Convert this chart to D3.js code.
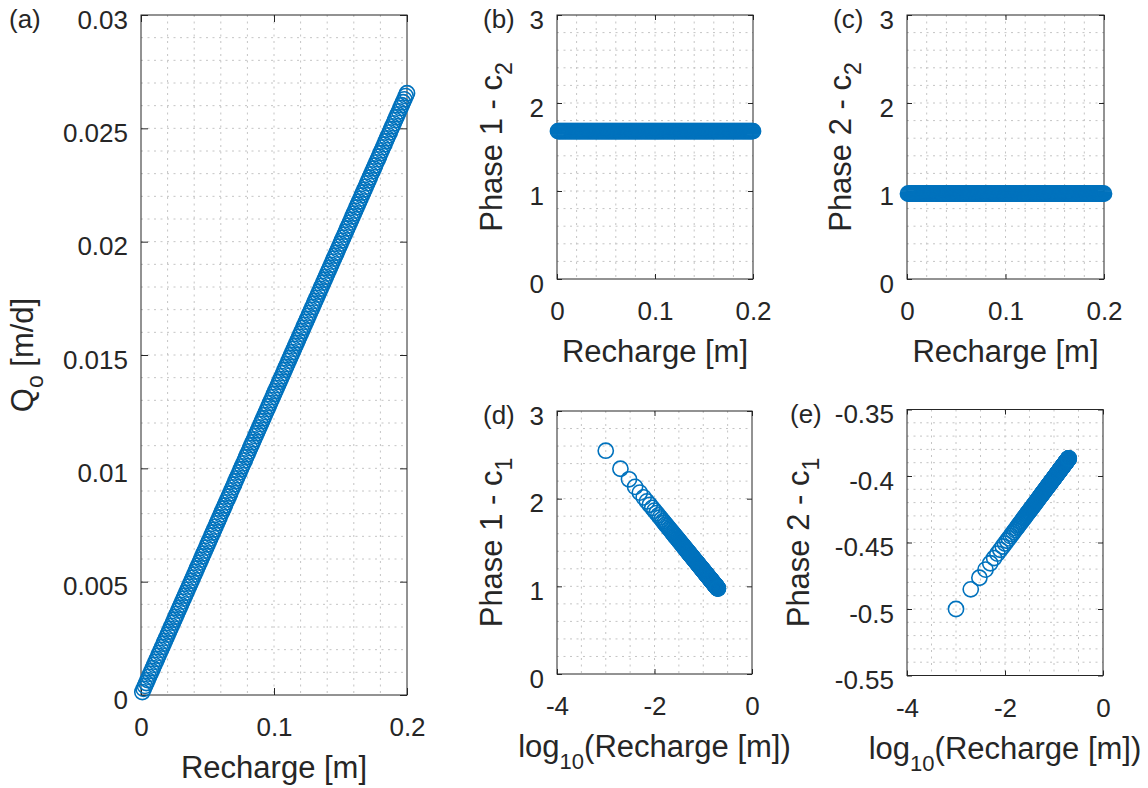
<!DOCTYPE html>
<html><head><meta charset="utf-8">
<script src="https://cdn.jsdelivr.net/npm/d3@7"></script>
<style>html,body{margin:0;padding:0;background:#fff;} svg{display:block;}</style>
</head><body>
<script>
// ---------------- DATA ----------------
const recharge = [
0.001,0.002,0.003,0.004,0.005,0.006,0.007,0.008,0.009,0.010,
0.011,0.012,0.013,0.014,0.015,0.016,0.017,0.018,0.019,0.020,
0.021,0.022,0.023,0.024,0.025,0.026,0.027,0.028,0.029,0.030,
0.031,0.032,0.033,0.034,0.035,0.036,0.037,0.038,0.039,0.040,
0.041,0.042,0.043,0.044,0.045,0.046,0.047,0.048,0.049,0.050,
0.051,0.052,0.053,0.054,0.055,0.056,0.057,0.058,0.059,0.060,
0.061,0.062,0.063,0.064,0.065,0.066,0.067,0.068,0.069,0.070,
0.071,0.072,0.073,0.074,0.075,0.076,0.077,0.078,0.079,0.080,
0.081,0.082,0.083,0.084,0.085,0.086,0.087,0.088,0.089,0.090,
0.091,0.092,0.093,0.094,0.095,0.096,0.097,0.098,0.099,0.100,
0.101,0.102,0.103,0.104,0.105,0.106,0.107,0.108,0.109,0.110,
0.111,0.112,0.113,0.114,0.115,0.116,0.117,0.118,0.119,0.120,
0.121,0.122,0.123,0.124,0.125,0.126,0.127,0.128,0.129,0.130,
0.131,0.132,0.133,0.134,0.135,0.136,0.137,0.138,0.139,0.140,
0.141,0.142,0.143,0.144,0.145,0.146,0.147,0.148,0.149,0.150,
0.151,0.152,0.153,0.154,0.155,0.156,0.157,0.158,0.159,0.160,
0.161,0.162,0.163,0.164,0.165,0.166,0.167,0.168,0.169,0.170,
0.171,0.172,0.173,0.174,0.175,0.176,0.177,0.178,0.179,0.180,
0.181,0.182,0.183,0.184,0.185,0.186,0.187,0.188,0.189,0.190,
0.191,0.192,0.193,0.194,0.195,0.196,0.197,0.198,0.199,0.200];

const qo = [
0.00013,0.00027,0.00040,0.00053,0.00066,0.00080,0.00093,0.00106,0.00119,0.00133,
0.00146,0.00159,0.00173,0.00186,0.00199,0.00212,0.00226,0.00239,0.00252,0.00266,
0.00279,0.00292,0.00305,0.00319,0.00332,0.00345,0.00358,0.00372,0.00385,0.00398,
0.00412,0.00425,0.00438,0.00451,0.00465,0.00478,0.00491,0.00504,0.00518,0.00531,
0.00544,0.00558,0.00571,0.00584,0.00597,0.00611,0.00624,0.00637,0.00650,0.00664,
0.00677,0.00690,0.00704,0.00717,0.00730,0.00743,0.00757,0.00770,0.00783,0.00797,
0.00810,0.00823,0.00836,0.00850,0.00863,0.00876,0.00889,0.00903,0.00916,0.00929,
0.00943,0.00956,0.00969,0.00982,0.00996,0.01009,0.01022,0.01035,0.01049,0.01062,
0.01075,0.01089,0.01102,0.01115,0.01128,0.01142,0.01155,0.01168,0.01181,0.01195,
0.01208,0.01221,0.01235,0.01248,0.01261,0.01274,0.01288,0.01301,0.01314,0.01328,
0.01341,0.01354,0.01367,0.01381,0.01394,0.01407,0.01420,0.01434,0.01447,0.01460,
0.01474,0.01487,0.01500,0.01513,0.01527,0.01540,0.01553,0.01566,0.01580,0.01593,
0.01606,0.01620,0.01633,0.01646,0.01659,0.01673,0.01686,0.01699,0.01712,0.01726,
0.01739,0.01752,0.01766,0.01779,0.01792,0.01805,0.01819,0.01832,0.01845,0.01859,
0.01872,0.01885,0.01898,0.01912,0.01925,0.01938,0.01951,0.01965,0.01978,0.01991,
0.02005,0.02018,0.02031,0.02044,0.02058,0.02071,0.02084,0.02097,0.02111,0.02124,
0.02137,0.02151,0.02164,0.02177,0.02190,0.02204,0.02217,0.02230,0.02243,0.02257,
0.02270,0.02283,0.02297,0.02310,0.02323,0.02336,0.02350,0.02363,0.02376,0.02390,
0.02403,0.02416,0.02429,0.02443,0.02456,0.02469,0.02482,0.02496,0.02509,0.02522,
0.02536,0.02549,0.02562,0.02575,0.02589,0.02602,0.02615,0.02628,0.02642,0.02655];

const phase1C2 = [
1.68,1.68,1.68,1.68,1.68,1.68,1.68,1.68,1.68,1.68,1.68,1.68,1.68,1.68,1.68,1.68,1.68,1.68,1.68,1.68,
1.68,1.68,1.68,1.68,1.68,1.68,1.68,1.68,1.68,1.68,1.68,1.68,1.68,1.68,1.68,1.68,1.68,1.68,1.68,1.68,
1.68,1.68,1.68,1.68,1.68,1.68,1.68,1.68,1.68,1.68,1.68,1.68,1.68,1.68,1.68,1.68,1.68,1.68,1.68,1.68,
1.68,1.68,1.68,1.68,1.68,1.68,1.68,1.68,1.68,1.68,1.68,1.68,1.68,1.68,1.68,1.68,1.68,1.68,1.68,1.68,
1.68,1.68,1.68,1.68,1.68,1.68,1.68,1.68,1.68,1.68,1.68,1.68,1.68,1.68,1.68,1.68,1.68,1.68,1.68,1.68,
1.68,1.68,1.68,1.68,1.68,1.68,1.68,1.68,1.68,1.68,1.68,1.68,1.68,1.68,1.68,1.68,1.68,1.68,1.68,1.68,
1.68,1.68,1.68,1.68,1.68,1.68,1.68,1.68,1.68,1.68,1.68,1.68,1.68,1.68,1.68,1.68,1.68,1.68,1.68,1.68,
1.68,1.68,1.68,1.68,1.68,1.68,1.68,1.68,1.68,1.68,1.68,1.68,1.68,1.68,1.68,1.68,1.68,1.68,1.68,1.68,
1.68,1.68,1.68,1.68,1.68,1.68,1.68,1.68,1.68,1.68,1.68,1.68,1.68,1.68,1.68,1.68,1.68,1.68,1.68,1.68,
1.68,1.68,1.68,1.68,1.68,1.68,1.68,1.68,1.68,1.68,1.68,1.68,1.68,1.68,1.68,1.68,1.68,1.68,1.68,1.68];

const phase2C2 = [
0.97,0.97,0.97,0.97,0.97,0.97,0.97,0.97,0.97,0.97,0.97,0.97,0.97,0.97,0.97,0.97,0.97,0.97,0.97,0.97,
0.97,0.97,0.97,0.97,0.97,0.97,0.97,0.97,0.97,0.97,0.97,0.97,0.97,0.97,0.97,0.97,0.97,0.97,0.97,0.97,
0.97,0.97,0.97,0.97,0.97,0.97,0.97,0.97,0.97,0.97,0.97,0.97,0.97,0.97,0.97,0.97,0.97,0.97,0.97,0.97,
0.97,0.97,0.97,0.97,0.97,0.97,0.97,0.97,0.97,0.97,0.97,0.97,0.97,0.97,0.97,0.97,0.97,0.97,0.97,0.97,
0.97,0.97,0.97,0.97,0.97,0.97,0.97,0.97,0.97,0.97,0.97,0.97,0.97,0.97,0.97,0.97,0.97,0.97,0.97,0.97,
0.97,0.97,0.97,0.97,0.97,0.97,0.97,0.97,0.97,0.97,0.97,0.97,0.97,0.97,0.97,0.97,0.97,0.97,0.97,0.97,
0.97,0.97,0.97,0.97,0.97,0.97,0.97,0.97,0.97,0.97,0.97,0.97,0.97,0.97,0.97,0.97,0.97,0.97,0.97,0.97,
0.97,0.97,0.97,0.97,0.97,0.97,0.97,0.97,0.97,0.97,0.97,0.97,0.97,0.97,0.97,0.97,0.97,0.97,0.97,0.97,
0.97,0.97,0.97,0.97,0.97,0.97,0.97,0.97,0.97,0.97,0.97,0.97,0.97,0.97,0.97,0.97,0.97,0.97,0.97,0.97,
0.97,0.97,0.97,0.97,0.97,0.97,0.97,0.97,0.97,0.97,0.97,0.97,0.97,0.97,0.97,0.97,0.97,0.97,0.97,0.97];

const phase1C1 = [
2.547,2.341,2.221,2.135,2.069,2.015,1.969,1.930,1.895,1.864,
1.835,1.810,1.786,1.764,1.743,1.724,1.706,1.689,1.673,1.658,
1.644,1.630,1.617,1.604,1.592,1.580,1.569,1.558,1.548,1.538,
1.528,1.519,1.510,1.501,1.492,1.484,1.476,1.468,1.460,1.452,
1.445,1.438,1.431,1.424,1.418,1.411,1.405,1.398,1.392,1.386,
1.380,1.375,1.369,1.363,1.358,1.353,1.347,1.342,1.337,1.332,
1.327,1.322,1.318,1.313,1.308,1.304,1.299,1.295,1.291,1.286,
1.282,1.278,1.274,1.270,1.266,1.262,1.258,1.254,1.251,1.247,
1.243,1.240,1.236,1.232,1.229,1.225,1.222,1.219,1.215,1.212,
1.209,1.205,1.202,1.199,1.196,1.193,1.190,1.187,1.184,1.181,
1.178,1.175,1.172,1.169,1.166,1.163,1.161,1.158,1.155,1.152,
1.150,1.147,1.144,1.142,1.139,1.137,1.134,1.132,1.129,1.127,
1.124,1.122,1.119,1.117,1.114,1.112,1.110,1.107,1.105,1.103,
1.101,1.098,1.096,1.094,1.092,1.089,1.087,1.085,1.083,1.081,
1.079,1.077,1.075,1.072,1.070,1.068,1.066,1.064,1.062,1.060,
1.058,1.056,1.054,1.053,1.051,1.049,1.047,1.045,1.043,1.041,
1.039,1.038,1.036,1.034,1.032,1.030,1.029,1.027,1.025,1.023,
1.021,1.020,1.018,1.016,1.015,1.013,1.011,1.010,1.008,1.006,
1.005,1.003,1.001,1.000,0.998,0.997,0.995,0.993,0.992,0.990,
0.989,0.987,0.986,0.984,0.983,0.981,0.980,0.978,0.977,0.975];

const phase2C1 = [
-0.5000,-0.4852,-0.4765,-0.4704,-0.4656,-0.4617,-0.4584,-0.4555,-0.4530,-0.4508,
-0.4487,-0.4469,-0.4452,-0.4436,-0.4421,-0.4407,-0.4394,-0.4382,-0.4370,-0.4359,
-0.4349,-0.4339,-0.4329,-0.4320,-0.4312,-0.4303,-0.4295,-0.4287,-0.4280,-0.4273,
-0.4266,-0.4259,-0.4252,-0.4246,-0.4240,-0.4234,-0.4228,-0.4222,-0.4217,-0.4211,
-0.4206,-0.4201,-0.4196,-0.4191,-0.4186,-0.4181,-0.4177,-0.4172,-0.4168,-0.4163,
-0.4159,-0.4155,-0.4151,-0.4147,-0.4143,-0.4139,-0.4135,-0.4132,-0.4128,-0.4124,
-0.4121,-0.4117,-0.4114,-0.4111,-0.4107,-0.4104,-0.4101,-0.4098,-0.4095,-0.4092,
-0.4088,-0.4085,-0.4082,-0.4080,-0.4077,-0.4074,-0.4071,-0.4068,-0.4066,-0.4063,
-0.4060,-0.4058,-0.4055,-0.4052,-0.4050,-0.4047,-0.4045,-0.4043,-0.4040,-0.4038,
-0.4035,-0.4033,-0.4031,-0.4029,-0.4026,-0.4024,-0.4022,-0.4020,-0.4018,-0.4015,
-0.4013,-0.4011,-0.4009,-0.4007,-0.4005,-0.4003,-0.4001,-0.3999,-0.3997,-0.3995,
-0.3993,-0.3991,-0.3989,-0.3987,-0.3985,-0.3983,-0.3982,-0.3980,-0.3978,-0.3976,
-0.3974,-0.3973,-0.3971,-0.3969,-0.3968,-0.3966,-0.3964,-0.3962,-0.3961,-0.3959,
-0.3957,-0.3956,-0.3954,-0.3953,-0.3951,-0.3949,-0.3948,-0.3946,-0.3945,-0.3943,
-0.3942,-0.3940,-0.3939,-0.3937,-0.3936,-0.3934,-0.3933,-0.3931,-0.3930,-0.3929,
-0.3927,-0.3926,-0.3924,-0.3923,-0.3922,-0.3920,-0.3919,-0.3917,-0.3916,-0.3915,
-0.3913,-0.3912,-0.3911,-0.3909,-0.3908,-0.3907,-0.3906,-0.3904,-0.3903,-0.3902,
-0.3901,-0.3899,-0.3898,-0.3897,-0.3896,-0.3894,-0.3893,-0.3892,-0.3891,-0.3889,
-0.3888,-0.3887,-0.3886,-0.3885,-0.3884,-0.3882,-0.3881,-0.3880,-0.3879,-0.3878,
-0.3877,-0.3876,-0.3875,-0.3873,-0.3872,-0.3871,-0.3870,-0.3869,-0.3868,-0.3867];

const xTicksLin = [0, 0.1, 0.2];
const xTickLabelsLin = ["0", "0.1", "0.2"];
const xTicksLog = [-4, -2, 0];
const xTickLabelsLog = ["-4", "-2", "0"];
const yTicksA = [0, 0.005, 0.01, 0.015, 0.02, 0.025, 0.03];
const yTickLabelsA = ["0", "0.005", "0.01", "0.015", "0.02", "0.025", "0.03"];
const yTicksBCD = [0, 1, 2, 3];
const yTickLabelsBCD = ["0", "1", "2", "3"];
const yTicksE = [-0.55, -0.5, -0.45, -0.4, -0.35];
const yTickLabelsE = ["-0.55", "-0.5", "-0.45", "-0.4", "-0.35"];

const logRecharge = recharge.map(r => Math.log10(r));

// ---------------- DRAWING ----------------
const FONT = "'Liberation Sans', Arial, Helvetica, sans-serif";
const TXT = "#262626";
const BLUE = "#0072BD";
const TICKFS = 26, LABFS = 31;

const svg = d3.select("body").append("svg")
  .attr("width", 1148).attr("height", 788)
  .style("font-family", FONT);

function addParts(textSel, parts, subSize, subDy) {
  let prevSub = false;
  parts.forEach(p => {
    const ts = textSel.append("tspan").text(p.t);
    if (p.sub) { ts.attr("font-size", subSize).attr("dy", subDy); prevSub = true; }
    else if (prevSub) { ts.attr("dy", -subDy); prevSub = false; }
  });
}

function panel(o) {
  const x = d3.scaleLinear().domain(o.xDomain).range([o.left, o.right]);
  const y = d3.scaleLinear().domain(o.yDomain).range([o.bottom, o.top]);
  const g = svg.append("g");

  // minor grid (dotted)
  const xs = d3.range(Math.round((o.xDomain[1] - o.xDomain[0]) / o.xMinor) + 1)
    .map(i => o.xDomain[0] + i * o.xMinor).filter((v, i, a) => i > 0 && i < a.length - 1);
  const ys = d3.range(Math.round((o.yDomain[1] - o.yDomain[0]) / o.yMinor) + 1)
    .map(i => o.yDomain[0] + i * o.yMinor).filter((v, i, a) => i > 0 && i < a.length - 1);
  const grid = g.append("g").attr("stroke", "#c4c4c4").attr("stroke-width", 1)
    .attr("stroke-dasharray", "2,4.5").attr("fill", "none");
  grid.selectAll(".gx").data(xs).join("line")
    .attr("x1", d => x(d)).attr("x2", d => x(d)).attr("y1", o.top).attr("y2", o.bottom);
  grid.selectAll(".gy").data(ys).join("line")
    .attr("y1", d => y(d)).attr("y2", d => y(d)).attr("x1", o.left).attr("x2", o.right);

  // axes
  const tl = o.tl;
  const styleAxis = sel => {
    sel.select(".domain").remove();
    sel.attr("font-family", FONT).attr("font-size", TICKFS).attr("color", TXT);
    sel.selectAll(".tick line").attr("stroke-width", 1);
  };
  g.append("g").attr("transform", `translate(0,${o.bottom})`)
    .call(d3.axisBottom(x).tickValues(o.xTicks).tickFormat((d, i) => o.xTickLabels[i])
      .tickSizeInner(-tl).tickSizeOuter(0).tickPadding(23))
    .call(styleAxis);
  g.append("g").attr("transform", `translate(0,${o.top})`)
    .call(d3.axisTop(x).tickValues(o.xTicks).tickFormat("").tickSizeInner(-tl).tickSizeOuter(0))
    .call(styleAxis);
  const yl = g.append("g").attr("transform", `translate(${o.left},0)`)
    .call(d3.axisLeft(y).tickValues(o.yTicks).tickFormat((d, i) => o.yTickLabels[i])
      .tickSizeInner(-tl).tickSizeOuter(0).tickPadding(13))
    .call(styleAxis);
  yl.selectAll(".tick text").attr("dy", "0.5em");
  g.append("g").attr("transform", `translate(${o.right},0)`)
    .call(d3.axisRight(y).tickValues(o.yTicks).tickFormat("").tickSizeInner(-tl).tickSizeOuter(0))
    .call(styleAxis);

  // box
  g.append("rect").attr("x", o.left).attr("y", o.top)
    .attr("width", o.right - o.left).attr("height", o.bottom - o.top)
    .attr("fill", "none").attr("stroke", TXT).attr("stroke-width", 1);

  // markers
  g.append("g").selectAll("circle").data(d3.zip(o.xData, o.yData)).join("circle")
    .attr("cx", d => x(d[0])).attr("cy", d => y(d[1])).attr("r", 7.6)
    .attr("fill", "none").attr("stroke", BLUE).attr("stroke-width", 1.6);

  // x label
  const xt = g.append("text").attr("x", (o.left + o.right) / 2).attr("y", o.bottom + 83)
    .attr("text-anchor", "middle").attr("font-size", LABFS).attr("fill", TXT);
  addParts(xt, o.xLabel, 22, 12);

  // y label
  const ytx = g.append("text")
    .attr("transform", `translate(${o.yLabX},${(o.top + o.bottom) / 2}) rotate(-90)`)
    .attr("text-anchor", "middle").attr("font-size", LABFS).attr("fill", TXT);
  addParts(ytx, o.yLabel, 23, 10);

  // panel tag
  g.append("text").attr("x", o.tagX).attr("y", o.top + 13)
    .attr("font-size", TICKFS).attr("fill", TXT).text(o.tag);
}

const rechargeLabel = [{t: "Recharge [m]"}];
const logLabel = [{t: "log"}, {t: "10", sub: true}, {t: "(Recharge [m])"}];

panel({tag: "(a)", tagX: 9, left: 141, right: 407, top: 15, bottom: 695, tl: 7,
  xDomain: [0, 0.2], yDomain: [0, 0.03], xMinor: 0.02, yMinor: 0.001,
  xTicks: xTicksLin, xTickLabels: xTickLabelsLin, yTicks: yTicksA, yTickLabels: yTickLabelsA,
  xData: recharge, yData: qo, xLabel: rechargeLabel, yLabX: 33,
  yLabel: [{t: "Q"}, {t: "o", sub: true}, {t: " [m/d]"}]});

panel({tag: "(b)", tagX: 483, left: 557, right: 753, top: 15, bottom: 279, tl: 5,
  xDomain: [0, 0.2], yDomain: [0, 3], xMinor: 0.02, yMinor: 0.2,
  xTicks: xTicksLin, xTickLabels: xTickLabelsLin, yTicks: yTicksBCD, yTickLabels: yTickLabelsBCD,
  xData: recharge, yData: phase1C2, xLabel: rechargeLabel, yLabX: 502,
  yLabel: [{t: "Phase 1 - c"}, {t: "2", sub: true}]});

panel({tag: "(c)", tagX: 833, left: 907, right: 1104, top: 15, bottom: 279, tl: 5,
  xDomain: [0, 0.2], yDomain: [0, 3], xMinor: 0.02, yMinor: 0.2,
  xTicks: xTicksLin, xTickLabels: xTickLabelsLin, yTicks: yTicksBCD, yTickLabels: yTickLabelsBCD,
  xData: recharge, yData: phase2C2, xLabel: rechargeLabel, yLabX: 851,
  yLabel: [{t: "Phase 2 - c"}, {t: "2", sub: true}]});

panel({tag: "(d)", tagX: 483, left: 557, right: 752, top: 411, bottom: 674, tl: 5,
  xDomain: [-4, 0], yDomain: [0, 3], xMinor: 0.5, yMinor: 0.2,
  xTicks: xTicksLog, xTickLabels: xTickLabelsLog, yTicks: yTicksBCD, yTickLabels: yTickLabelsBCD,
  xData: logRecharge, yData: phase1C1, xLabel: logLabel, yLabX: 502,
  yLabel: [{t: "Phase 1 - c"}, {t: "1", sub: true}]});

panel({tag: "(e)", tagX: 790, left: 907, right: 1103, top: 409.5, bottom: 675.5, tl: 5,
  xDomain: [-4, 0], yDomain: [-0.55, -0.35], xMinor: 0.5, yMinor: 0.01,
  xTicks: xTicksLog, xTickLabels: xTickLabelsLog, yTicks: yTicksE, yTickLabels: yTickLabelsE,
  xData: logRecharge, yData: phase2C1, xLabel: logLabel, yLabX: 809,
  yLabel: [{t: "Phase 2 - c"}, {t: "1", sub: true}]});
</script>
</body></html>
